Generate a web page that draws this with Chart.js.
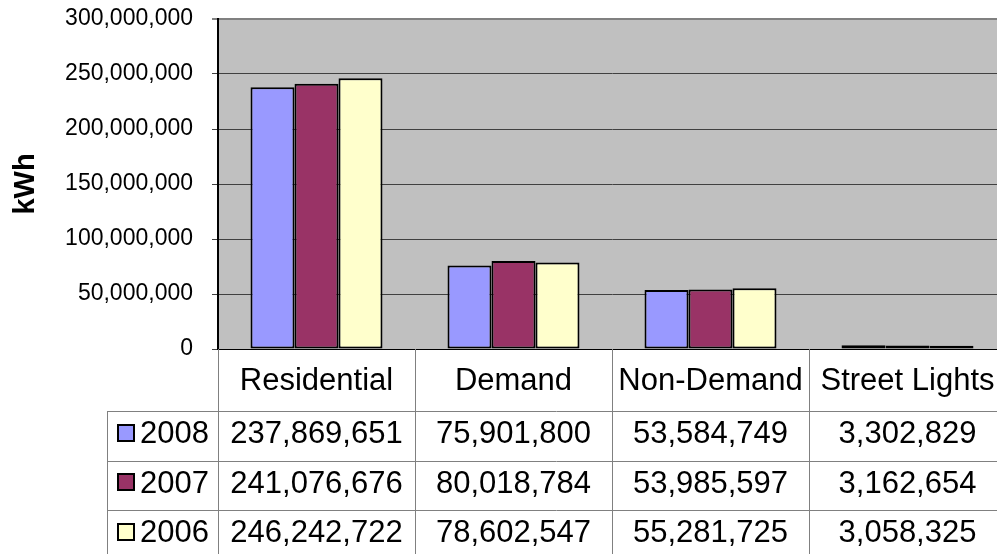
<!DOCTYPE html>
<html>
<head>
<meta charset="utf-8">
<script src="https://cdn.jsdelivr.net/npm/chart.js@4/dist/chart.umd.min.js"></script>
<style>
html,body{margin:0;padding:0;background:#fff;overflow:hidden;width:997px;height:554px;}
canvas{display:block;}
</style>
</head>
<body>
<canvas id="c" width="1010" height="554" style="width:1010px;height:554px"></canvas>
<script>
const categories = ['Residential', 'Demand', 'Non-Demand', 'Street Lights'];
const seriesNames = ['2008', '2007', '2006'];
const values2008 = [237869651, 75901800, 53584749, 3302829];
const values2007 = [241076676, 80018784, 53985597, 3162654];
const values2006 = [246242722, 78602547, 55281725, 3058325];
const seriesColors = ['#9999FF', '#993366', '#FFFFCC'];
const yMin = 0, yMax = 300000000, yStep = 50000000;
const yTitle = 'kWh';

function fmt(n){ return String(Math.round(n)).replace(/\B(?=(\d{3})+(?!\d))/g, ','); }

const allSeries = [values2008, values2007, values2006];
const FONT = '"Liberation Sans", Arial, sans-serif';

const tablePlugin = {
  id: 'dataTable',
  afterDraw(chart) {
    const ctx = chart.ctx;
    const xs = chart.scales.x;
    const area = chart.chartArea;
    const n = categories.length;
    const catW = (area.right - area.left) / n;
    const top = area.bottom;
    const headerBottom = top + 62;
    const rowH = 49.5;
    const tableLeft = 107;
    const bottom = chart.height + 10;
    ctx.save();
    ctx.strokeStyle = '#808080';
    ctx.lineWidth = 1;
    for (let i = 0; i < n; i++) {
      const xl = Math.round(xs.getPixelForValue(i) - catW / 2) + 0.5;
      ctx.beginPath();
      ctx.moveTo(xl, top);
      ctx.lineTo(xl, bottom);
      ctx.stroke();
    }
    ctx.beginPath();
    ctx.moveTo(tableLeft + 0.5, headerBottom);
    ctx.lineTo(tableLeft + 0.5, bottom);
    ctx.stroke();
    for (let r = 0; r < seriesNames.length; r++) {
      const y = Math.round(headerBottom + r * rowH) + 0.5;
      ctx.beginPath();
      ctx.moveTo(tableLeft, y);
      ctx.lineTo(area.right, y);
      ctx.stroke();
    }
    ctx.fillStyle = '#000';
    ctx.textAlign = 'center';
    ctx.textBaseline = 'middle';
    ctx.font = '31px ' + FONT;
    for (let i = 0; i < n; i++) {
      ctx.fillText(categories[i], xs.getPixelForValue(i), (top + headerBottom) / 2 + 1);
    }
    for (let r = 0; r < seriesNames.length; r++) {
      const cy = headerBottom + r * rowH + rowH / 2 - 1;
      for (let i = 0; i < n; i++) {
        ctx.fillText(fmt(allSeries[r][i]), xs.getPixelForValue(i), cy);
      }
      const sq = 16;
      const sx = 118, sy = Math.round(cy - 2 - sq / 2);
      ctx.fillStyle = seriesColors[r];
      ctx.fillRect(sx, sy, sq, sq);
      ctx.strokeStyle = '#000';
      ctx.lineWidth = 2;
      ctx.strokeRect(sx, sy, sq, sq);
      ctx.fillStyle = '#000';
      ctx.textAlign = 'left';
      ctx.fillText(seriesNames[r], 140, cy);
      ctx.textAlign = 'center';
    }
    ctx.restore();
  }
};

const bgPlugin = {
  id: 'plotBg',
  beforeDraw(chart) {
    const a = chart.chartArea, ctx = chart.ctx;
    ctx.save();
    ctx.fillStyle = '#C0C0C0';
    ctx.fillRect(a.left, a.top, a.right - a.left, a.bottom - a.top);
    ctx.restore();
  }
};

new Chart(document.getElementById('c'), {
  type: 'bar',
  data: {
    labels: categories,
    datasets: seriesNames.map((name, k) => ({
      label: name,
      data: allSeries[k],
      backgroundColor: seriesColors[k],
      borderColor: '#000',
      borderWidth: 2,
      borderSkipped: false,
      categoryPercentage: 0.67,
      barPercentage: 1.0
    }))
  },
  options: {
    responsive: false,
    animation: false,
    devicePixelRatio: 1,
    layout: { padding: { top: 19, right: 4, left: 0, bottom: 0 } },
    plugins: { legend: { display: false }, tooltip: { enabled: false } },
    scales: {
      x: {
        ticks: { display: false },
        grid: { display: false, drawTicks: false },
        border: { display: true, color: '#000', width: 1 },
        afterFit(scale) { scale.height = 205; scale.paddingLeft = 0; scale.paddingRight = 0; }
      },
      y: {
        min: yMin, max: yMax,
        ticks: {
          stepSize: yStep,
          padding: 19,
          color: '#000',
          font: { family: FONT, size: 23 },
          callback: v => fmt(v)
        },
        grid: {
          tickLength: 6,
          color: c => (c.tick && c.tick.value === yMax) ? '#808080' : '#404040',
          lineWidth: c => (c.tick && c.tick.value === yMax) ? 2 : 1
        },
        border: { display: true, color: '#000', width: 2 },
        title: {
          display: true,
          text: yTitle,
          color: '#000',
          font: { family: FONT, size: 29, weight: 'bold' },
          padding: { top: 9, bottom: 0 }
        },
        afterFit(scale) { scale.width = 218; scale.paddingTop = 0; scale.paddingBottom = 0; }
      }
    }
  },
  plugins: [bgPlugin, tablePlugin]
});
</script>
</body>
</html>
